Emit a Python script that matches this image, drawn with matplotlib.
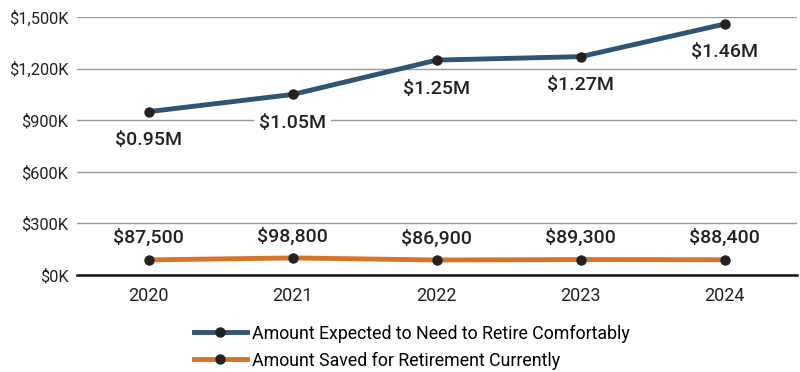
import matplotlib
matplotlib.use("Agg")
import matplotlib.pyplot as plt
from matplotlib.ticker import FuncFormatter

plt.rcParams['font.family'] = ['Roboto', 'DejaVu Sans']

years = ["2020", "2021", "2022", "2023", "2024"]
expected = [950000, 1050000, 1250000, 1270000, 1460000]
expected_labels = ["$0.95M", "$1.05M", "$1.25M", "$1.27M", "$1.46M"]
saved = [87500, 98800, 86900, 89300, 88400]
saved_labels = ["$87,500", "$98,800", "$86,900", "$89,300", "$88,400"]

blue = "#2f5475"
orange = "#d6742b"

fig = plt.figure(figsize=(8, 3.72), dpi=100)
ax = fig.add_axes([0.096, 0.261, 0.9, 0.693])

x = list(range(len(years)))
ax.plot(x, expected, color=blue, lw=3.5, marker="o", ms=6.5,
        mfc="#222222", mec="#222222", zorder=3,
        label="Amount Expected to Need to Retire Comfortably")
ax.plot(x, saved, color=orange, lw=3.5, marker="o", ms=6.5,
        mfc="#222222", mec="#222222", zorder=3,
        label="Amount Saved for Retirement Currently")

for xi, v, lab in zip(x, expected, expected_labels):
    ax.annotate(lab, (xi, v), xytext=(0, -14), textcoords="offset points",
                ha="center", va="top", fontsize=14, fontweight="medium",
                color="#222222", zorder=4,
                bbox=dict(boxstyle="square,pad=0.25", fc="white", ec="none"))
for xi, v, lab in zip(x, saved, saved_labels):
    ax.annotate(lab, (xi, v), xytext=(0, 9), textcoords="offset points",
                ha="center", va="bottom", fontsize=14, fontweight="medium",
                color="#222222", zorder=4,
                bbox=dict(boxstyle="square,pad=0.05", fc="white", ec="none"))

ax.set_xlim(-0.5, 4.5)
ax.set_ylim(0, 1500000)
ax.set_yticks([0, 300000, 600000, 900000, 1200000, 1500000])
ax.yaxis.set_major_formatter(FuncFormatter(lambda v, p: f"${v/1000:,.0f}K"))
ax.set_xticks(x)
ax.set_xticklabels(years, fontsize=13)
ax.tick_params(axis="y", labelsize=11.8, length=0, pad=6, colors="#222222")
ax.tick_params(axis="x", length=0, pad=9, colors="#222222")
ax.grid(axis="y", color="#999999", lw=1)
ax.set_axisbelow(True)
for s in ["top", "right", "left"]:
    ax.spines[s].set_visible(False)
ax.spines["bottom"].set_color("#111111")
ax.spines["bottom"].set_linewidth(1.8)

fig.legend(loc="upper center", bbox_to_anchor=(0.515, 0.147), ncol=1,
           frameon=False, fontsize=12.8, handlelength=3.0, handletextpad=0.3,
           labelspacing=0.5, borderaxespad=0)

fig.savefig("out.png", dpi=100)
